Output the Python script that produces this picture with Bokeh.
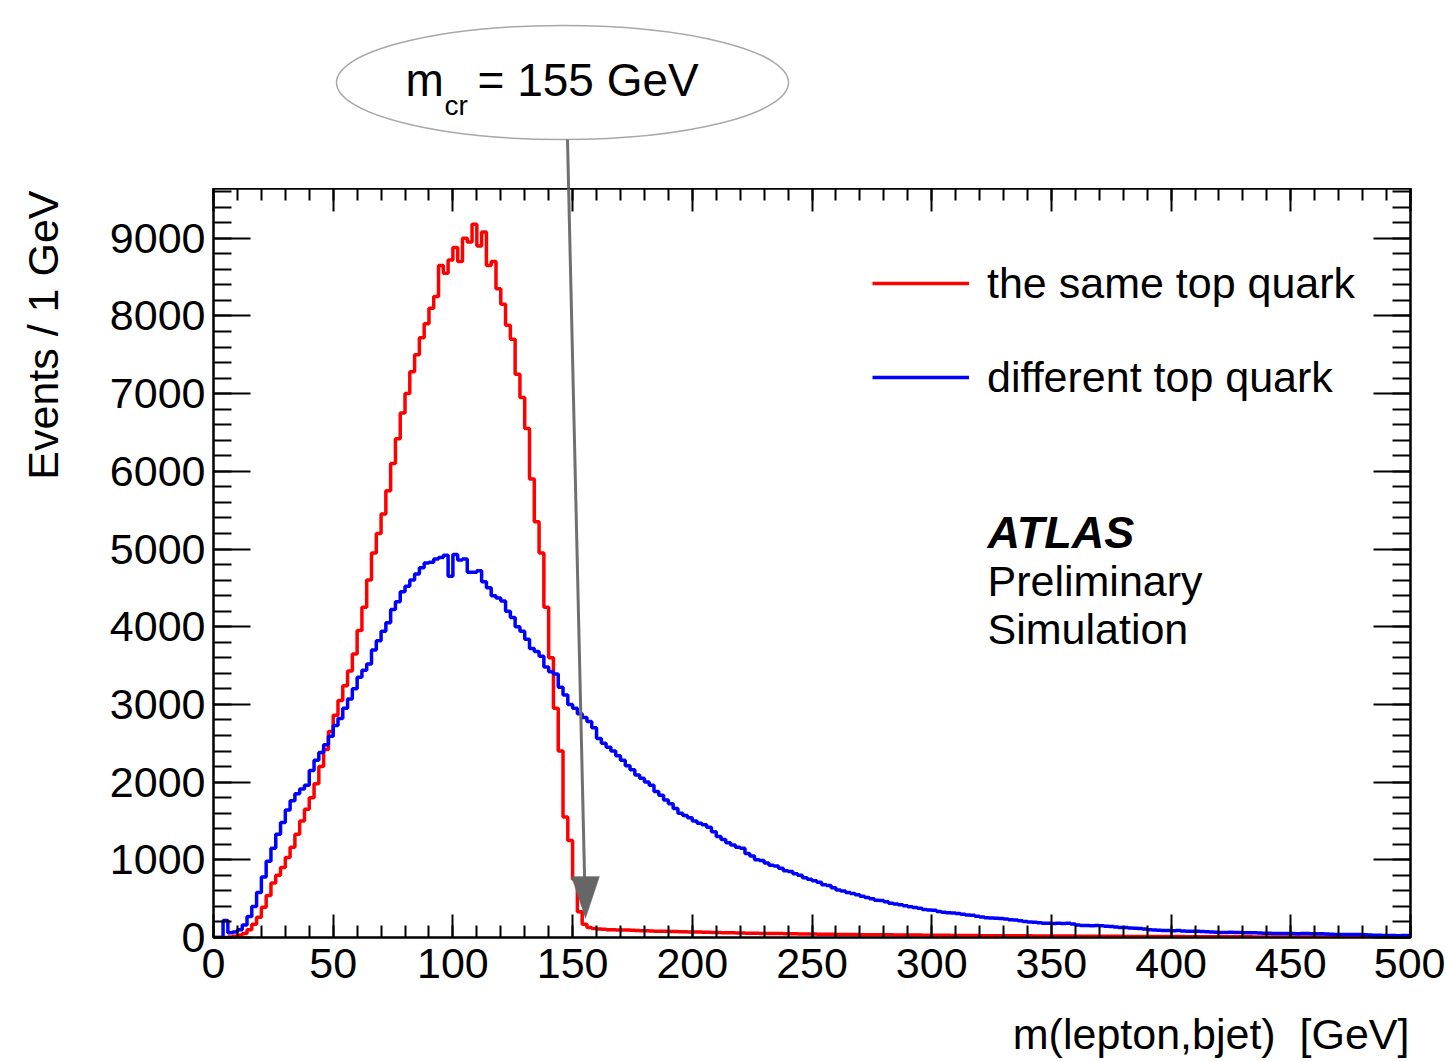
import numpy as np
from bokeh.plotting import figure
from bokeh.layouts import gridplot
from bokeh.models import (Range1d, SingleIntervalTicker, LinearAxis, Label,
                          PolyAnnotation, Arrow, Legend, LegendItem,
                          CustomJSTickFormatter)
from bokeh.embed import file_html
from bokeh.resources import INLINE

# ---------------- data (2 GeV bins, 0 .. 500 GeV) ----------------
bin_width = 2
x_min, x_max = 0, 500
y_max = 9640

same_top_quark = [
    0, 0, 0, 5, 15, 30, 50, 100, 170, 260,
    390, 540, 700, 800, 900, 1030, 1160, 1330, 1500, 1650,
    1800, 1980, 2200, 2420, 2650, 2860, 3050, 3240, 3430, 3650,
    3950, 4250, 4600, 4950, 5200, 5450, 5750, 6100, 6420, 6750,
    7000, 7280, 7500, 7720, 7900, 8100, 8250, 8650, 8550, 8720,
    8880, 8700, 9000, 8950, 9180, 8900, 9080, 8650, 8700, 8350,
    8150, 7880, 7700, 7250, 6950, 6550, 5900, 5350, 4950, 4250,
    3600, 2950, 2400, 1550, 1250, 750, 330, 170, 130, 115,
    110, 105, 100, 100, 98, 95, 97, 92, 90, 88,
    86, 85, 82, 80, 80, 78, 76, 75, 74, 72,
    70, 70, 68, 66, 65, 64, 62, 62, 60, 58,
    58, 56, 55, 55, 53, 52, 51, 50, 50, 48,
    48, 47, 46, 45, 45, 44, 43, 42, 42, 41,
    40, 40, 39, 38, 38, 37, 36, 36, 35, 35,
    34, 34, 33, 33, 32, 32, 31, 31, 30, 30,
    29, 29, 28, 28, 27, 27, 26, 26, 25, 25,
    24, 24, 24, 23, 23, 22, 22, 22, 21, 21,
    21, 20, 20, 20, 19, 19, 19, 18, 18, 18,
    17, 17, 17, 16, 16, 16, 15, 15, 15, 15,
    14, 14, 14, 14, 13, 13, 13, 13, 12, 12,
    12, 12, 12, 11, 11, 11, 11, 10, 10, 10,
    10, 10, 9, 9, 9, 9, 9, 8, 8, 8,
    8, 8, 8, 7, 7, 7, 7, 7, 7, 6,
    6, 6, 6, 6, 6, 6, 5, 5, 5, 5,
    5, 5, 5, 5, 4, 4, 4, 4, 4, 4,
]

different_top_quark = [
    0, 0, 220, 60, 70, 100, 160, 270, 400, 580,
    780, 980, 1150, 1330, 1480, 1640, 1760, 1850, 1910, 1960,
    2150, 2280, 2380, 2480, 2590, 2730, 2820, 2950, 3070, 3200,
    3350, 3440, 3520, 3700, 3820, 3940, 4050, 4220, 4320, 4450,
    4520, 4600, 4680, 4760, 4820, 4830, 4870, 4890, 4920, 4650,
    4930, 4860, 4870, 4700, 4700, 4720, 4580, 4500, 4400, 4370,
    4330, 4200, 4120, 4000, 3940, 3840, 3720, 3680, 3620, 3480,
    3420, 3390, 3220, 3120, 3000, 2950, 2880, 2830, 2780, 2700,
    2560, 2500, 2450, 2400, 2340, 2280, 2210, 2160, 2090, 2050,
    2000, 1960, 1880, 1830, 1770, 1720, 1660, 1600, 1570, 1540,
    1500, 1470, 1450, 1420, 1360, 1300, 1260, 1220, 1190, 1160,
    1150, 1080, 1050, 1000, 990, 960, 930, 920, 890, 860,
    850, 820, 800, 770, 750, 730, 710, 680, 670, 640,
    610, 600, 580, 565, 550, 530, 515, 500, 480, 475,
    460, 440, 430, 420, 410, 395, 385, 375, 360, 355,
    350, 335, 325, 320, 315, 310, 300, 290, 285, 275,
    265, 255, 250, 248, 245, 238, 230, 225, 215, 205,
    200, 195, 190, 185, 182, 180, 185, 180, 185, 175,
    160, 155, 155, 150, 155, 150, 145, 140, 135, 130,
    128, 122, 118, 115, 110, 100, 95, 92, 90, 90,
    88, 90, 85, 82, 80, 80, 78, 75, 70, 68,
    65, 65, 66, 64, 65, 62, 60, 60, 58, 56,
    55, 52, 50, 50, 52, 50, 48, 50, 50, 48,
    47, 48, 45, 42, 40, 40, 40, 38, 40, 38,
    35, 32, 30, 28, 26, 25, 25, 24, 25, 25,
]

series_labels = ["the same top quark", "different top quark"]
x_title = "m(lepton,bjet)\u00a0 [GeV]"
y_title = "Events / 1 GeV"
atlas_lines = ["ATLAS", "Preliminary", "Simulation"]
mcr_value = 155

# ---------------- geometry (canvas pixels) ----------------
W, H = 1445, 1061
LEFT_W = 70                      # left strip holding the y title
TOP_H = 188                      # top strip holding the m_cr note
L, R = 213, 35                   # frame left / right margins on the canvas
FRAME_B = 937                    # canvas y of the frame bottom
AX_B = 60                        # room for the x tick labels
BOT_H = H - FRAME_B - AX_B       # bottom strip holding the x title
FONT = "Liberation Sans"
FSN = 43
FS = f"{FSN}px"
LW = 3.5

fw = W - L - R
fh = FRAME_B - TOP_H
main_h = fh + AX_B


def to_data(px, py):
    """canvas pixel -> data coordinates of the main frame"""
    return ((px - L) / fw * (x_max - x_min) + x_min,
            (FRAME_B - py) / fh * y_max)


def base_corr(size_px):
    # alphabetic baseline correction measured on the rendered page
    return 0.357 * size_px


def strip(width, height, xr, yr, left=0, right=0, bottom=0):
    f = figure(width=width, height=height, output_backend="svg",
               toolbar_location=None, tools="", x_range=Range1d(*xr),
               y_range=Range1d(*yr), x_axis_location=None, y_axis_location=None,
               min_border_left=left, min_border_right=right,
               min_border_top=0, min_border_bottom=bottom)
    f.xgrid.visible = False
    f.ygrid.visible = False
    f.outline_line_color = None
    f.background_fill_color = "white"
    f.border_fill_color = "white"
    return f


def canvas_label(text, px, py, size, **kw):
    return Label(x=px, y=py - base_corr(size), text=text, text_font=FONT,
                 text_font_size=f"{size}px", text_color="black",
                 text_baseline="alphabetic", **kw)


# ---------------- top strip with the m_cr note ----------------
pt = strip(W - LEFT_W, TOP_H, (L, W - R), (TOP_H, 0), left=L - LEFT_W, right=R)
pt.ellipse(x=[562], y=[82], width=[452], height=[114],
           fill_color="white", line_color="#a8a8a8", line_width=1.5)

ax0, ay0 = 567.0, 139.0
ax1, ay1 = 585.0, 917.0
slope = (ax1 - ax0) / (ay1 - ay0)
pt.segment(x0=[ax0], y0=[ay0], x1=[ax0 + slope * (TOP_H + 2 - ay0)], y1=[TOP_H + 2],
           line_color="#707070", line_width=3)
pt.add_layout(canvas_label("m", 405, 96, 46))
pt.add_layout(canvas_label("cr", 444, 115, 28))
pt.add_layout(canvas_label(f"= {mcr_value} GeV", 477, 96, 46))

# ---------------- left strip with the y title ----------------
pl = strip(LEFT_W, main_h, (0, LEFT_W), (FRAME_B, TOP_H), bottom=AX_B)
pl.add_layout(Label(x=58 - base_corr(FSN), y=190, text=y_title, text_font=FONT,
                    text_font_size=FS, text_color="black", text_align="right",
                    text_baseline="alphabetic", angle=np.pi / 2))

# ---------------- bottom strip with the x title ----------------
pb = strip(W - LEFT_W, BOT_H, (L, W - R), (H, H - BOT_H), left=L - LEFT_W, right=R)
pb.add_layout(canvas_label(x_title, 1409, 1049, FSN, text_align="right"))

# ---------------- main histogram figure ----------------
p = figure(width=W - LEFT_W, height=main_h, output_backend="svg",
           toolbar_location=None, tools="",
           x_range=Range1d(x_min, x_max), y_range=Range1d(0, y_max),
           x_axis_location=None, y_axis_location=None,
           min_border_left=L - LEFT_W, min_border_right=R,
           min_border_top=0, min_border_bottom=AX_B)
p.xgrid.visible = False
p.ygrid.visible = False
p.outline_line_color = "black"
p.outline_line_width = 2
p.background_fill_color = "white"
p.border_fill_color = "white"


def make_axis(interval, major_len, minor_len, show_labels, standoff=8):
    ax = LinearAxis(ticker=SingleIntervalTicker(interval=interval, num_minor_ticks=5))
    ax.major_tick_in = major_len
    ax.major_tick_out = 0
    ax.minor_tick_in = minor_len
    ax.minor_tick_out = 0
    ax.major_tick_line_width = 2
    ax.minor_tick_line_width = 2
    ax.major_tick_line_color = "black"
    ax.minor_tick_line_color = "black"
    ax.axis_line_width = 2
    ax.axis_line_color = "black"
    if show_labels:
        ax.major_label_text_font = FONT
        ax.major_label_text_font_size = FS
        ax.major_label_text_color = "black"
        ax.major_label_standoff = standoff
    else:
        ax.formatter = CustomJSTickFormatter(code="return ''")
        ax.major_label_text_font_size = "0px"
        ax.major_label_standoff = 0
    return ax


p.add_layout(make_axis(50, 23, 12, True, standoff=11), "below")
p.add_layout(make_axis(50, 23, 12, False), "above")
p.add_layout(make_axis(1000, 37, 18, True, standoff=8), "left")
p.add_layout(make_axis(1000, 37, 18, False), "right")

# histograms
edges = list(np.arange(x_min, x_max + bin_width, bin_width))
red_y = same_top_quark + [same_top_quark[-1]]
blue_y = different_top_quark + [different_top_quark[-1]]

r_red = p.step(x=edges, y=red_y, mode="after", line_color="#ff0000", line_width=LW)
r_blue = p.step(x=edges, y=blue_y, mode="after", line_color="#0000ff", line_width=LW)

legend = Legend(items=[LegendItem(label=series_labels[0], renderers=[r_red]),
                       LegendItem(label=series_labels[1], renderers=[r_blue])],
                location=(872 - L, FRAME_B - 405),
                label_text_font=FONT, label_text_font_size=FS,
                label_text_color="black",
                glyph_width=97, glyph_height=56, label_height=56,
                label_standoff=18, spacing=38, padding=0, margin=0,
                border_line_color=None, background_fill_alpha=0)
p.add_layout(legend)


def label(text, px, py, size=FSN, **kw):
    x, y = to_data(px, py - base_corr(size))
    return Label(x=x, y=y, text=text, text_font=FONT, text_font_size=f"{size}px",
                 text_color="black", text_baseline="alphabetic", **kw)


p.add_layout(label(atlas_lines[0], 987, 548, size=45, text_font_style="bold italic"))
p.add_layout(label(atlas_lines[1], 987, 596))
p.add_layout(label(atlas_lines[2], 987, 644))

# arrow (lower part) and its head pointing at m_cr
x0, y0 = to_data(ax0 + slope * (TOP_H - 2 - ay0), TOP_H - 2)
x1, y1 = to_data(ax0 + slope * (880 - ay0), 880)
p.add_layout(Arrow(x_start=x0, y_start=y0, x_end=x1, y_end=y1, end=None,
                   line_color="#707070", line_width=3))
tri = [to_data(571, 876), to_data(599, 876), to_data(585, 918)]
p.add_layout(PolyAnnotation(xs=[v[0] for v in tri], ys=[v[1] for v in tri],
                            fill_color="#666666", fill_alpha=1.0,
                            line_color="#666666", line_width=1))

grid = gridplot([[None, pt], [pl, p], [None, pb]], toolbar_location=None)
open("out.html", "w").write(file_html(grid, INLINE))
